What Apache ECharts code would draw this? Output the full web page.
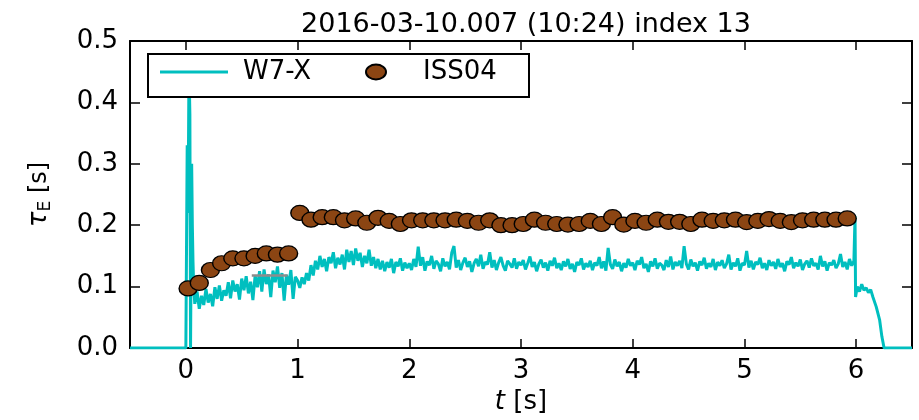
<!DOCTYPE html>
<html>
<head>
<meta charset="utf-8">
<script src="https://cdn.jsdelivr.net/npm/echarts@6/dist/echarts.min.js"></script>
<style>html,body{margin:0;padding:0;background:#fff;}#c{width:919px;height:420px;}</style>
</head>
<body>
<div id="c"></div>
<script>
// ---- data ----
const titleText = '2016-03-10.007 (10:24) index 13';
const xTicks = [0, 1, 2, 3, 4, 5, 6];
const yTicks = [0, 0.1, 0.2, 0.3, 0.4, 0.5];

// ISS04 scaling values
const issTime = [0.02,0.12,0.22,0.32,0.42,0.52,0.62,0.72,0.82,0.92,
  1.02,1.12,1.22,1.32,1.42,1.52,1.62,1.72,1.82,1.92,
  2.02,2.12,2.22,2.32,2.42,2.52,2.62,2.72,2.82,2.92,
  3.02,3.12,3.22,3.32,3.42,3.52,3.62,3.72,3.82,3.92,
  4.02,4.12,4.22,4.32,4.42,4.52,4.62,4.72,4.82,4.92,
  5.02,5.12,5.22,5.32,5.42,5.52,5.62,5.72,5.82,5.92];
const issTau = [0.097,0.106,0.127,0.138,0.146,0.146,0.150,0.154,0.152,0.154,
  0.220,0.209,0.213,0.213,0.208,0.211,0.204,0.212,0.207,0.202,
  0.208,0.208,0.208,0.208,0.209,0.207,0.204,0.208,0.200,0.200,
  0.202,0.209,0.204,0.202,0.201,0.202,0.207,0.202,0.213,0.201,
  0.207,0.204,0.209,0.2055,0.2055,0.202,0.209,0.207,0.208,0.209,
  0.205,0.207,0.210,0.207,0.205,0.208,0.209,0.209,0.209,0.211];

// W7-X measured energy confinement time
const w7xStart = [[-0.5,0],[0.0,0],[0.006,0],[0.012,0.33],[0.02,0.22],[0.028,0.46],[0.036,0.38],
  [0.042,0],[0.047,0],[0.052,0.30],[0.058,0.20],[0.064,0.14],[0.07,0.10],[0.08,0.072]];
const w7xBodyT0 = 0.10, w7xBodyDt = 0.02;
const w7xBody = [
  0.092,0.064,0.085,0.070,0.096,0.074,0.088,0.068,0.099,0.080,
  0.102,0.077,0.094,0.085,0.107,0.081,0.110,0.092,0.104,0.079,
  0.113,0.094,0.117,0.089,0.108,0.078,0.118,0.099,0.125,0.092,
  0.128,0.104,0.120,0.083,0.126,0.107,0.133,0.098,0.122,0.077,
  0.119,0.103,0.127,0.080,0.116,
  0.110,0.098,0.115,0.104,0.122,0.110,
  0.135,0.118,0.142,0.128,0.150,0.132,0.145,0.125,0.148,0.138,
  0.156,0.130,0.147,0.136,0.152,0.128,0.160,0.140,0.158,0.135,
  0.162,0.142,0.155,0.132,0.150,0.138,0.160,0.134,0.148,0.130,
  0.145,0.128,0.142,0.125,0.140,0.131,0.145,0.122,0.140,0.133,
  0.146,0.126,0.139,0.130,
  0.138,0.127,0.145,0.132,0.165,0.134,0.148,0.126,0.141,0.135,
  0.150,0.129,0.142,0.137,0.125,0.146,0.133,0.140,0.128,0.155,
  0.166,0.131,0.143,0.127,0.139,0.147,0.132,0.141,0.124,0.138,
  0.145,0.133,0.152,0.129,0.140,0.136,0.156,0.131,0.143,0.127,
  0.139,0.148,0.134,0.126,0.142,0.137,0.131,0.146,0.129,0.140,
  0.135,0.143,0.128,0.138,0.149,0.132,0.140,0.125,0.137,0.144,
  0.131,0.139,0.126,0.142,0.134,0.147,0.130,0.138,0.127,0.141,
  0.133,0.145,0.129,0.137,0.124,0.140,0.135,0.146,0.128,0.138,
  0.132,0.142,0.127,0.139,0.134,0.148,0.130,0.141,0.126,0.163,
  0.136,0.129,0.144,0.133,0.140,0.125,0.138,0.131,0.145,0.134,
  0.139,0.127,0.142,0.136,0.148,0.130,0.137,0.124,0.141,0.133,
  0.146,0.129,0.138,0.135,0.127,0.143,0.132,0.149,0.128,0.140,
  0.134,0.142,0.130,0.166,0.137,0.128,0.144,0.133,0.139,0.126,
  0.141,0.135,0.147,0.129,0.138,0.132,0.145,0.127,0.140,0.134,
  0.143,0.130,0.137,0.152,0.128,0.139,0.133,0.146,0.126,0.138,
  0.135,0.158,0.131,0.142,0.128,0.140,0.136,0.147,0.130,0.138,
  0.127,0.143,0.134,0.140,0.129,0.145,0.132,0.138,0.125,0.141,
  0.136,0.148,0.130,0.139,0.133,0.144,0.127,0.137,0.142,0.131,
  0.146,0.134,0.138,0.128,0.150,0.133,0.141,0.126,0.139,0.135,
  0.143,0.130,0.137,0.153,0.132,0.140,0.128,0.145,0.134,0.142];
const w7xEnd = [[5.99,0.215],[5.995,0.083],[6.01,0.100],[6.03,0.092],[6.05,0.104],[6.07,0.094],
  [6.09,0.098],[6.11,0.090],[6.13,0.095],[6.15,0.083],[6.18,0.067],[6.21,0.046],[6.23,0.019],
  [6.25,0],[6.5,0]];

// grey reference segment
const refTime = [0.59, 0.91];
const refTau = [0.118, 0.118];

// ---- build ----
const w7xData = w7xStart.concat(
  w7xBody.map((v, i) => [+(w7xBodyT0 + i * w7xBodyDt).toFixed(3), v]),
  w7xEnd);
const issData = issTime.map((t, i) => [t, issTau[i]]);
const refData = refTime.map((t, i) => [t, refTau[i]]);

const FONT = 'DejaVu Sans';
const axisCommonX = {
  type: 'value', min: -0.5, max: 6.5,
  axisLine: {show: true, onZero: false, lineStyle: {color: '#000', width: 2}},
  axisTick: {show: true, inside: true, length: 9, customValues: xTicks, lineStyle: {color: '#000', width: 1.5}},
  splitLine: {show: false}
};
const axisCommonY = {
  type: 'value', min: 0, max: 0.5, interval: 0.1,
  axisLine: {show: true, onZero: false, lineStyle: {color: '#000', width: 2}},
  axisTick: {show: true, inside: true, length: 10, lineStyle: {color: '#000', width: 1.5}},
  splitLine: {show: false}
};

const chart = echarts.init(document.getElementById('c'), null, {renderer: 'canvas'});
chart.setOption({
  animation: false,
  backgroundColor: '#fff',
  textStyle: {fontFamily: FONT},
  title: {
    text: titleText, left: 521, top: 6, textAlign: 'center',
    textStyle: {fontFamily: FONT, fontSize: 27, fontWeight: 'normal', color: '#000'}
  },
  grid: {left: 130, right: 7, top: 41, bottom: 68},
  graphic: [{
    type: 'rect', left: 147, top: 53, z: 3,
    shape: {width: 381, height: 43},
    style: {fill: '#fff', stroke: '#000', lineWidth: 2}
  }],
  legend: [{
    data: [{name: 'W7-X', icon: 'rect'}],
    left: 160, top: 59, padding: 0, z: 5,
    itemWidth: 68, itemHeight: 3,
    textStyle: {fontFamily: FONT, fontSize: 26, color: '#000', padding: [0, 0, 0, 10]}
  }, {
    data: [{name: 'ISS04', icon: 'path://M0,7.5A10,7.5,0,1,1,20,7.5A10,7.5,0,1,1,0,7.5Z'}],
    left: 365, top: 59, padding: 0, z: 5,
    itemWidth: 20, itemHeight: 15,
    textStyle: {fontFamily: FONT, fontSize: 26, color: '#000', padding: [0, 0, 0, 32]}
  }],
  xAxis: [
    Object.assign({}, axisCommonX, {
      position: 'bottom',
      axisLabel: {customValues: xTicks, formatter: v => String(Math.round(v)), fontSize: 26, color: '#000', fontFamily: FONT, margin: 10},
      name: '{it|t} [s]', nameLocation: 'middle', nameGap: 41,
      nameTextStyle: {fontFamily: FONT, fontSize: 26, color: '#000', rich: {it: {fontStyle: 'italic', fontSize: 26, fontFamily: FONT, color: '#000'}}}
    }),
    Object.assign({}, axisCommonX, {position: 'top', axisLabel: {show: false}})
  ],
  yAxis: [
    Object.assign({}, axisCommonY, {
      position: 'left',
      axisLabel: {formatter: v => v.toFixed(1), fontSize: 26, color: '#000', fontFamily: FONT, margin: 12},
      name: '{tau|τ}{sub|E} [s]', nameLocation: 'middle', nameGap: 76, nameRotate: 90,
      nameTextStyle: {fontFamily: FONT, fontSize: 24, color: '#000',
        rich: {tau: {fontStyle: 'italic', fontSize: 26, fontFamily: FONT, color: '#000'},
               sub: {fontSize: 17, fontFamily: FONT, color: '#000', padding: [12, 0, 0, 0]}}}
    }),
    Object.assign({}, axisCommonY, {position: 'right', axisLabel: {show: false}})
  ],
  series: [
    {
      name: 'W7-X', type: 'line', data: w7xData, xAxisIndex: 0, yAxisIndex: 0,
      showSymbol: false, symbol: 'none', z: 2,
      lineStyle: {color: '#00BFBF', width: 3}, itemStyle: {color: '#00BFBF'}
    },
    {
      name: 'ref', type: 'line', data: refData, showSymbol: false, symbol: 'none', z: 2,
      lineStyle: {color: '#8c8c8c', width: 2.5}, itemStyle: {color: '#8c8c8c'}
    },
    {
      name: 'ISS04', type: 'scatter', data: issData, z: 3,
      symbol: 'circle', symbolSize: [18, 15],
      itemStyle: {color: '#8B4513', borderColor: '#000', borderWidth: 1.3, opacity: 1}
    }
  ]
});
</script>
</body>
</html>
